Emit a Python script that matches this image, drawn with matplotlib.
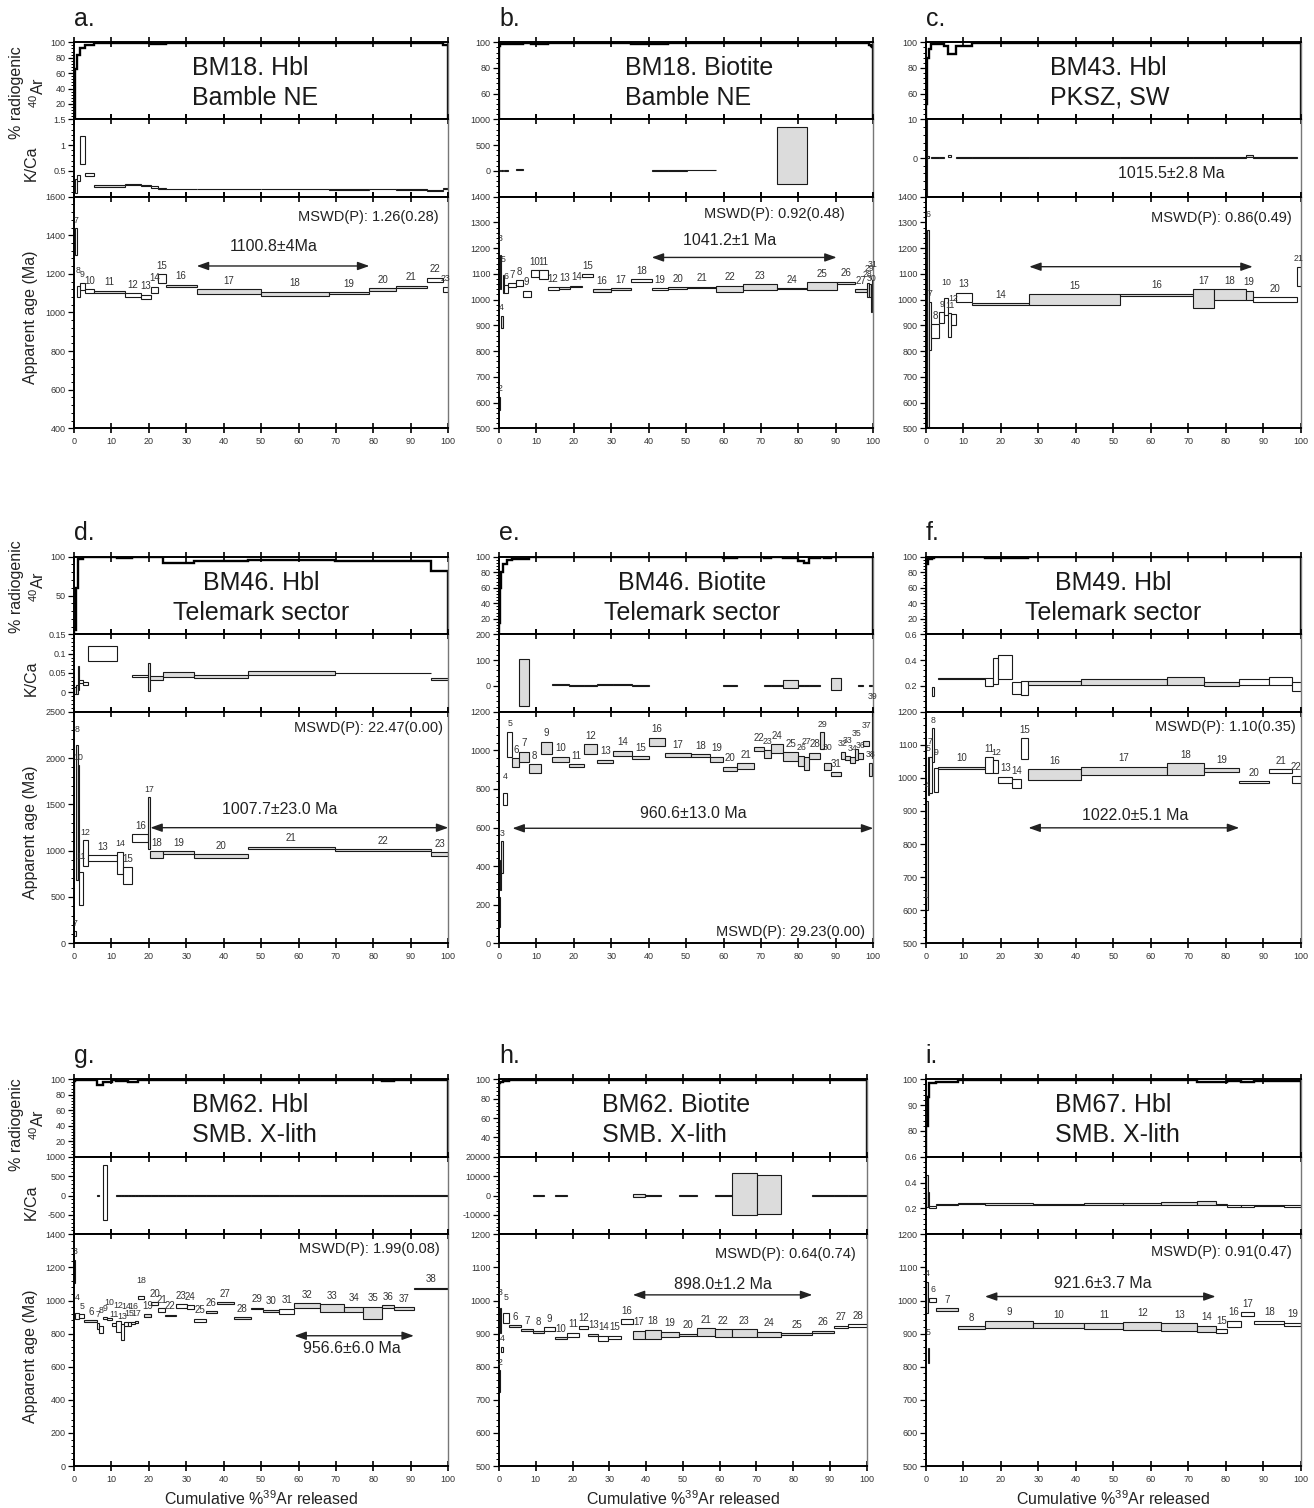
import numpy as np
import matplotlib
matplotlib.use("Agg")
import matplotlib.pyplot as plt
import matplotlib.transforms as mtransforms
from matplotlib.ticker import AutoMinorLocator, FixedLocator, FuncFormatter, MultipleLocator

plt.rcParams['font.family'] = ['Liberation Sans', 'DejaVu Sans']
plt.rcParams['mathtext.fontset'] = 'custom'
plt.rcParams['mathtext.rm'] = 'Liberation Sans'
plt.rcParams['mathtext.it'] = 'Liberation Sans:italic'
plt.rcParams['mathtext.bf'] = 'Liberation Sans:bold'

nan = np.nan

# ============ a. BM18 Hbl, Bamble NE ============
a_steps = list(range(7, 24))
a_edges = [0.3, 0.8, 1.6, 2.85, 5.34, 13.6, 17.8, 20.7, 22.5, 24.5, 32.8, 49.9, 68.0, 78.9, 86.0, 94.2, 98.5, 100]
a_age_lo = [1298, 1082, 1117, 1103, 1099, 1082, 1070, 1103, 1151, 1134, 1094, 1086, 1094, 1112, 1127, 1156, 1105]
a_age_hi = [1436, 1137, 1155, 1120, 1113, 1099, 1091, 1134, 1198, 1143, 1120, 1108, 1106, 1125, 1139, 1181, 1134]
a_kca_lo = [0.08, 0.30, 0.63, 0.41, 0.19, 0.22, 0.20, 0.17, 0.14, 0.14, 0.14, 0.14, 0.135, 0.14, 0.13, 0.11, 0.15]
a_kca_hi = [0.34, 0.43, 1.18, 0.45, 0.22, 0.25, 0.23, 0.20, 0.16, 0.155, 0.155, 0.155, 0.15, 0.155, 0.145, 0.125, 0.17]
a_rad = [65, 84, 92, 96, 98.5, 99, 99, 97.5, 97.5, 99, 99, 99, 99, 99.2, 99, 99, 96.5]
a_grey = [11, 16, 17, 18, 19, 20, 21]

# ============ b. BM18 Biotite, Bamble NE ============
b_steps = list(range(2, 32))
b_edges = [0.05, 0.25, 0.45, 1.0, 1.3, 2.5, 4.45, 6.3, 8.5, 10.7, 13.0, 15.9, 19.1, 22.3, 25.2, 29.8,
           35.3, 40.8, 45.2, 50.3, 58.0, 65.3, 74.2, 82.4, 90.2, 95.1, 98.2, 98.8, 99.3, 99.7, 100]
b_age_lo = [571, 1040, 889, 1027, 1027, 1050, 1054, 1012, 1089, 1079, 1038, 1041, 1048, 1087, 1028,
            1036, 1070, 1038, 1040, 1044, 1028, 1038, 1040, 1038, 1060, 1031, 1012, 1012, 953, 1040]
b_age_hi = [623, 1175, 937, 1096, 1057, 1063, 1076, 1034, 1115, 1115, 1048, 1050, 1054, 1098, 1040,
            1044, 1080, 1044, 1048, 1050, 1054, 1060, 1044, 1067, 1070, 1040, 1066, 1062, 1050, 1075]
b_kca_lo = [0, nan, 0, nan, 0, nan, 15, nan] + [nan] * 9 + [0, 5, 8, nan, nan, -255] + [nan] * 7
b_kca_hi = [8, nan, 8, nan, 8, nan, 30, nan] + [nan] * 9 + [12, 15, 18, nan, nan, 847] + [nan] * 7
b_rad = [97, 98.7, 98.7, 98.7, 98.7, 98.7, 98.7, 99.5, 99, 99, 99.5, 99.5, 99.5, 99.5, 99.5,
         99.5, 99, 99, 99.5, 99.5, 99.5, 99.5, 99.5, 99.5, 99.5, 99.5, 99.5, 98, 97, 96]
b_grey = [3, 4, 13, 14, 16, 17, 20, 21, 22, 23, 24, 25, 26, 27, 28, 29, 30]

# ============ c. BM43 Hbl, PKSZ SW ============
c_steps = list(range(5, 22))
c_edges = [0.05, 0.3, 0.8, 1.4, 3.6, 4.9, 6.0, 6.8, 8.1, 12.4, 27.6, 51.8, 71.4, 77.0, 85.3, 87.2, 98.9, 100]
c_age_lo = [500, 506, 804, 850, 911, 940, 856, 902, 990, 979, 979, 1014, 966, 999, 999, 992, 1054]
c_age_hi = [1140, 1270, 992, 905, 951, 1005, 947, 943, 1027, 986, 1021, 1022, 1041, 1041, 1035, 1009, 1128]
c_kca_lo = [-10, 0, nan, 0.1, 0.1, nan, 0.2, nan, 0.1, 0.05, 0.1, 0.1, 0.1, 0.1, 0.2, 0.05, nan]
c_kca_hi = [10, 0.4, nan, 0.35, 0.35, nan, 0.9, nan, 0.3, 0.25, 0.3, 0.3, 0.3, 0.3, 0.9, 0.25, nan]
c_rad = [52, 88, 95, 98.5, 99, 97, 91, 91, 97.4, 99.5, 99.5, 99.5, 99.5, 99.5, 99.5, 99.5, 99.5]
c_grey = [5, 6, 14, 15, 16, 17, 18, 19]

# ============ d. BM46 Hbl, Telemark sector ============
d_steps = [7, 8, 10, 11, 12, 13, 14, 15, 16, 17, 18, 19, 20, 21, 22, 23]
d_edges = [0.0, 0.45, 1.0, 1.4, 2.5, 3.75, 11.6, 13.2, 15.6, 19.8, 20.4, 23.9, 32.1, 46.4, 69.6, 95.5, 100]
d_age_lo = [80, 683, 683, 414, 835, 892, 748, 637, 1090, 1014, 917, 964, 924, 1018, 996, 946]
d_age_hi = [130, 2140, 1924, 773, 1115, 953, 986, 820, 1176, 1576, 996, 996, 960, 1043, 1018, 982]
d_kca_lo = [-0.003, -0.003, 0.007, 0.024, 0.018, 0.082, nan, nan, 0.039, 0.003, 0.031, 0.039, 0.037, 0.044, 0.049, 0.033]
d_kca_hi = [0.015, 0.02, 0.067, 0.032, 0.028, 0.12, nan, nan, 0.046, 0.077, 0.041, 0.053, 0.045, 0.054, 0.051, 0.038]
d_rad = [5, 60, 97, 97, 99.5, 99.5, 98.5, 98.5, 99.5, 99.5, 99.5, 92.5, 94.5, 96, 95, 81]
d_grey = [8, 10, 17, 18, 19, 20, 21, 22, 23]

# ============ e. BM46 Biotite, Telemark sector ============
e_steps = list(range(1, 40))
e_edges = [0.0, 0.3, 0.6, 1.2, 2.2, 3.6, 5.4, 8.0, 11.1, 14.1, 18.8, 22.7, 26.3, 30.5, 35.4, 40.1, 44.3,
           51.2, 56.4, 59.9, 63.7, 68.1, 70.9, 72.6, 76.0, 80.0, 81.5, 82.9, 85.8, 86.8, 88.6, 91.4,
           92.4, 93.8, 95.1, 96.0, 97.3, 98.9, 99.6, 100]
e_age_lo = [86, 276, 363, 717, 967, 912, 941, 881, 981, 941, 912, 981, 933, 972, 953, 1022, 967, 963,
            941, 893, 903, 998, 959, 984, 945, 919, 898, 955, 1007, 898, 867, 953, 950, 936, 950, 953,
            1022, 867, 959]
e_age_hi = [242, 432, 530, 781, 1097, 958, 993, 927, 1045, 967, 927, 1031, 950, 998, 970, 1066, 984, 979,
            967, 915, 933, 1019, 1002, 1031, 990, 972, 967, 988, 1093, 936, 886, 993, 972, 967, 1005, 984,
            1048, 936, 1210]
e_kca_lo = ([nan] * 6 + [-77] + [nan] * 2 + [2, -1, -1, 2, 2, 0] + [nan] * 4 + [-1] + [nan] * 2
            + [-1, -1, -10, -1, -1, -1] + [nan] * 2 + [-15] + [nan] * 4 + [-1, nan, -1, nan])
e_kca_hi = ([nan] * 6 + [103] + [nan] * 2 + [6, 2, 2, 8, 8, 5] + [nan] * 4 + [3] + [nan] * 2
            + [2, 2, 23, 2, 2, 2] + [nan] * 2 + [32] + [nan] * 4 + [2, nan, 2, nan])
e_rad = [15, 60, 80, 90, 96, 97, 97, 99.5, 99.5, 99.5, 99.5, 99.5, 99, 99, 99, 99.5, 99.5, 99.5, 99.5,
         98.5, 99, 99.5, 98.7, 99.5, 98, 95, 92, 98, 99.5, 98.5, 99, 99.5, 99.5, 99.5, 99.5, 99.5, 99.5,
         99.5, 99]
e_grey = [1, 2, 3] + list(range(6, 40))

# ============ f. BM49 Hbl, Telemark sector ============
f_steps = [1, 4, 5, 7, 8, 9, 10, 11, 12, 13, 14, 15, 16, 17, 18, 19, 20, 21, 22]
f_edges = [0.0, 0.2, 0.5, 0.9, 1.6, 2.3, 3.4, 15.8, 18.0, 19.4, 23.1, 25.3, 27.4, 41.3, 64.4, 74.2, 83.6, 91.6, 97.6, 100]
f_age_lo = [500, 600, 948, 953, 1049, 958, 1027, 1014, 1014, 985, 968, 1056, 993, 1009, 1009, 1019, 983, 1014, 983]
f_age_hi = [620, 930, 1064, 1064, 1150, 1031, 1034, 1062, 1054, 1004, 996, 1119, 1026, 1034, 1044, 1029, 990, 1026, 1006]
f_kca_lo = [nan, nan, nan, nan, 0.12, nan, 0.255, 0.2, 0.215, 0.255, 0.14, 0.13, 0.21, 0.21, 0.21, 0.2, 0.21, 0.21, 0.16]
f_kca_hi = [nan, nan, nan, nan, 0.19, nan, 0.265, 0.265, 0.42, 0.44, 0.23, 0.24, 0.24, 0.25, 0.27, 0.23, 0.25, 0.27, 0.23]
f_rad = [60, 90, 97, 97, 98, 99, 99.5, 98.7, 98.7, 98.7, 98.7, 98.7, 99.5, 99.5, 99.5, 99.5, 99, 99, 99]
f_grey = [1, 4, 10, 16, 17, 18, 19]

# ============ g. BM62 Hbl, SMB X-lith ============
g_steps = list(range(3, 39))
g_edges = [0.0, 0.35, 1.3, 2.8, 6.2, 6.8, 7.8, 8.9, 10.1, 11.1, 12.5, 13.4, 14.4, 15.3, 16.2, 17.2, 18.8,
           20.6, 22.5, 24.3, 27.2, 30.1, 32.1, 35.2, 38.1, 42.7, 47.2, 50.6, 54.9, 58.9, 65.7, 72.2, 77.3,
           82.4, 85.6, 90.8, 100]
g_age_lo = [1104, 886, 892, 872, 826, 802, 886, 882, 846, 808, 761, 846, 846, 858, 862, 1009, 900, 971,
            932, 904, 953, 947, 872, 922, 979, 890, 947, 932, 916, 957, 932, 928, 886, 957, 943, 1067]
g_age_hi = [1245, 922, 916, 882, 866, 846, 902, 896, 866, 878, 858, 872, 872, 872, 874, 1029, 916, 989,
            952, 914, 977, 971, 890, 936, 989, 900, 957, 943, 949, 983, 977, 963, 963, 971, 959, 1077]
g_kca_lo = [nan] * 4 + [-5, nan, -630, nan, nan, -5, -5] + [-5] * 25
g_kca_hi = [nan] * 4 + [5, nan, 790, nan, nan, 5, 5] + [5] * 25
g_rad = [98, 99.5, 99.5, 99, 92, 93, 96, 96, 99, 97.5, 97.5, 97.5, 97, 97, 97] + [99.5] * 18 + [98, 99.5, 99.5]
g_grey = [3, 6, 19, 22, 26, 27, 28, 29, 30, 32, 33, 34, 35, 36, 37, 38]

# ============ h. BM62 Biotite, SMB X-lith ============
h_steps = list(range(2, 29))
h_edges = [0.0, 0.3, 0.5, 1.2, 2.7, 6.0, 9.2, 12.2, 15.2, 18.6, 21.8, 24.3, 27.0, 29.7, 33.1, 36.4, 39.7,
           44.0, 49.0, 53.8, 58.7, 63.3, 70.1, 76.7, 85.2, 91.1, 95.0, 100]
h_age_lo = [725, 901, 845, 933, 921, 909, 901, 908, 883, 891, 914, 893, 879, 884, 928, 883, 883, 889,
            893, 894, 889, 891, 891, 896, 903, 916, 919]
h_age_hi = [790, 976, 860, 961, 926, 913, 908, 919, 889, 903, 923, 899, 893, 893, 943, 908, 911, 906,
            899, 916, 913, 913, 906, 901, 909, 924, 929]
h_kca_lo = ([nan] * 6 + [-150, nan, -150] + [nan] * 6
            + [-520, -150, nan, -150, nan, -150, -10090, -9740, nan, -150, -150, -150])
h_kca_hi = ([nan] * 6 + [150, nan, 150] + [nan] * 6
            + [870, 150, nan, 150, nan, 150, 11650, 10780, nan, 150, 150, 150])
h_rad = [96, 97, 97.5, 98.5] + [99.5] * 9 + [99] + [99.5] * 13
h_grey = [2, 3, 6, 7, 8, 10, 13, 17, 18, 19, 20, 21, 22, 23, 24, 25, 26]

# ============ i. BM67 Hbl, SMB X-lith ============
i_steps = list(range(4, 20))
i_edges = [0.1, 0.5, 1.0, 2.7, 8.7, 15.8, 28.7, 42.3, 52.7, 62.8, 72.4, 77.3, 80.4, 84.1, 87.6, 95.6, 100]
i_age_lo = [961, 810, 996, 969, 913, 916, 916, 913, 911, 908, 904, 901, 921, 953, 928, 924]
i_age_hi = [1057, 855, 1009, 976, 923, 939, 931, 931, 936, 931, 924, 913, 939, 964, 939, 933]
i_kca_lo = [0.21, 0.21, 0.205, 0.228, 0.232, 0.228, 0.225, 0.228, 0.226, 0.228, 0.228, 0.228, 0.213, 0.213, 0.218, 0.21]
i_kca_hi = [0.46, 0.33, 0.22, 0.235, 0.245, 0.24, 0.235, 0.245, 0.24, 0.25, 0.258, 0.235, 0.226, 0.224, 0.226, 0.226]
i_rad = [82, 93, 98.7, 99.0, 99.6, 99.6, 99.6, 99.6, 99.6, 99.6, 99.0, 98.9, 99.5, 98.8, 99.5, 99.5]
i_grey = [4, 5, 7, 8, 9, 10, 11, 12, 13, 14]

# ====================== LAYOUT (pixels of the original figure) ======================
W, H = 1314, 1508
COLS = [(74, 448.3), (499, 873.3), (925.7, 1300.7)]
ROWS = [(42.3, 119.3, 196.7, 428.3), (556.7, 634.3, 711.7, 943.3), (1079.3, 1156.7, 1234.3, 1466.0)]
YLAB_Y = [(0.35, 0.43, 0.48), (0.61, 0.43, 0.48), (0.42, 0.41, 0.475)]

fig = plt.figure(figsize=(W / 100, H / 100), dpi=100)
fmt = FuncFormatter(lambda v, _: f"{v:g}")
GREY = '#dcdcdc'
EDGE = '#1a1a1a'
TXT = '#222222'


def add_ax(x0, x1, y0, y1):
    return fig.add_axes([x0 / W, 1 - y1 / H, (x1 - x0) / W, (y1 - y0) / H])


def style(ax, ylim, yticks, labels=False):
    ax.set_xlim(0, 100)
    ax.set_ylim(*ylim)
    ax.xaxis.set_major_locator(MultipleLocator(10))
    ax.yaxis.set_major_locator(FixedLocator(yticks))
    ax.yaxis.set_major_formatter(fmt)
    ax.yaxis.set_minor_locator(AutoMinorLocator(5))
    ax.tick_params(axis='x', which='major', direction='inout', length=7, width=1.2,
                   top=True, bottom=True, labelbottom=labels, labelsize=6.5, labelcolor='#333', pad=3)
    ax.tick_params(axis='y', which='major', direction='out', length=4, width=0.9,
                   labelsize=6.5, labelcolor='#333', pad=2)
    ax.tick_params(axis='y', which='minor', direction='out', length=2, width=0.7)
    for s in ax.spines.values():
        s.set_linewidth(1.4)
    ax.spines['right'].set_linewidth(1.0)
    ax.spines['right'].set_color('#777')


def boxes(ax, edges, lo, hi, colors):
    e = np.asarray(edges, float)
    lo = np.asarray(lo, float)
    hi = np.asarray(hi, float)
    ok = ~np.isnan(lo)
    ax.bar(e[:-1][ok], (hi - lo)[ok], width=np.diff(e)[ok], bottom=lo[ok], align='edge',
           color=np.array(colors)[ok], edgecolor=EDGE, linewidth=0.8)


def panel(col, row, letter, title, tx, tha, steps, edges, age_lo, age_hi, kca_lo, kca_hi, rad, grey,
          rad_lim, rad_ticks, kca_lim, kca_ticks, age_lim, age_ticks, plat, arrow_y,
          ptxt, pxy, mswd, mxy, hide=(), ptxt_kca=False, right=None):
    x0, x1 = COLS[col]
    if right is not None:
        x1 = right
    y0, y1, y2, y3 = ROWS[row]
    ax_r = add_ax(x0, x1, y0, y1)
    ax_k = add_ax(x0, x1, y1, y2)
    ax_a = add_ax(x0, x1, y2, y3)
    style(ax_r, rad_lim, rad_ticks)
    style(ax_k, kca_lim, kca_ticks)
    style(ax_a, age_lim, age_ticks, labels=True)

    colors = [GREY if s in grey else 'white' for s in steps]

    # % radiogenic 40Ar
    ax_r.stairs(rad, edges, baseline=0, color='k', linewidth=1.7)
    tr = mtransforms.blended_transform_factory(ax_r.transData, ax_r.transAxes)
    ax_r.text(tx, 0.47, title, transform=tr, ha=tha, va='center', multialignment=tha,
              fontsize=18, linespacing=1.3, color='#1a1a1a')
    ax_r.text(0, 1.21, letter, transform=ax_r.transAxes, ha='left', va='baseline',
              fontsize=18, color='#1a1a1a')

    # K/Ca
    boxes(ax_k, edges, kca_lo, kca_hi, colors)

    # apparent age spectrum
    boxes(ax_a, edges, age_lo, age_hi, colors)
    e = np.asarray(edges, float)
    flip = 0
    for s, a, b, h in zip(steps, e[:-1], e[1:], age_hi):
        narrow = (b - a) < 1.8
        flip = flip + 1 if narrow else 0
        if s in hide:
            continue
        dy = 8.0 if (narrow and flip % 2 == 0) else 2.5
        ax_a.annotate(str(s), xy=((a + b) / 2, min(h, age_lim[1])), xytext=(0, dy),
                      textcoords='offset points', ha='center', va='bottom',
                      fontsize=6.3 if narrow else 7, color='#333', annotation_clip=False)
    xa = e[steps.index(plat[0])]
    xb = e[steps.index(plat[1]) + 1]
    ax_a.annotate('', xy=(xb, arrow_y), xytext=(xa, arrow_y),
                  arrowprops=dict(arrowstyle='<|-|>,head_length=0.7,head_width=0.25',
                                  color=TXT, lw=1.0, shrinkA=0, shrinkB=0))
    (ax_k if ptxt_kca else ax_a).text(pxy[0], pxy[1], ptxt, ha='center', va='center',
                                      fontsize=11.5, color=TXT)
    ax_a.text(mxy[0], mxy[1], mswd, ha='right', va='center', fontsize=10.5, color=TXT)

    if col == 0:
        yr, yk, ya = YLAB_Y[row]
        ax_r.set_ylabel("% radiogenic\n$^{40}$Ar", fontsize=11.5, linespacing=1.25, color=TXT)
        ax_r.yaxis.set_label_coords(-0.072, yr)
        ax_k.set_ylabel("K/Ca", fontsize=11.5, color=TXT)
        ax_k.yaxis.set_label_coords(-0.094, yk)
        ax_a.set_ylabel("Apparent age (Ma)", fontsize=11.5, color=TXT)
        ax_a.yaxis.set_label_coords(-0.096, ya)
    if row == 2:
        ax_a.set_xlabel("Cumulative %$^{39}$Ar released", fontsize=11.5, color=TXT, va='top')
        ax_a.xaxis.set_label_coords(0.5, -0.1)


panel(0, 0, 'a.', "BM18. Hbl\nBamble NE", 31.4, 'left',
      a_steps, a_edges, a_age_lo, a_age_hi, a_kca_lo, a_kca_hi, a_rad, a_grey,
      (0, 100), [20, 40, 60, 80, 100], (0, 1.5), [0.5, 1, 1.5], (400, 1600), list(range(400, 1601, 200)),
      (17, 19), 1241, "1100.8±4Ma", (53.4, 1341), "MSWD(P): 1.26(0.28)", (97.3, 1497))

panel(1, 0, 'b.', "BM18. Biotite\nBamble NE", 33.7, 'left',
      b_steps, b_edges, b_age_lo, b_age_hi, b_kca_lo, b_kca_hi, b_rad, b_grey,
      (40, 100), [60, 80, 100], (-500, 1000), [0, 500, 1000], (500, 1400), list(range(500, 1401, 100)),
      (19, 25), 1164, "1041.2±1 Ma", (61.7, 1228), "MSWD(P): 0.92(0.48)", (92.4, 1332))

panel(2, 0, 'c.', "BM43. Hbl\nPKSZ, SW", 33.2, 'left',
      c_steps, c_edges, c_age_lo, c_age_hi, c_kca_lo, c_kca_hi, c_rad, c_grey,
      (40, 100), [60, 80, 100], (-10, 10), [0, 10], (500, 1400), list(range(500, 1401, 100)),
      (15, 19), 1128, "1015.5±2.8 Ma", (65.6, -3.9), "MSWD(P): 0.86(0.49)", (97.6, 1318),
      hide=(5,), ptxt_kca=True)

panel(0, 1, 'd.', "BM46. Hbl\nTelemark sector", 50.0, 'center',
      d_steps, d_edges, d_age_lo, d_age_hi, d_kca_lo, d_kca_hi, d_rad, d_grey,
      (0, 100), [50, 100], (-0.05, 0.15), [0, 0.05, 0.1, 0.15], (0, 2500), list(range(0, 2501, 500)),
      (18, 23), 1248, "1007.7±23.0 Ma", (54.9, 1446), "MSWD(P): 22.47(0.00)", (98.7, 2320))

panel(1, 1, 'e.', "BM46. Biotite\nTelemark sector", 51.5, 'center',
      e_steps, e_edges, e_age_lo, e_age_hi, e_kca_lo, e_kca_hi, e_rad, e_grey,
      (0, 100), [20, 40, 60, 80, 100], (-100, 200), [0, 100, 200], (0, 1200), list(range(0, 1201, 200)),
      (6, 39), 596, "960.6±13.0 Ma", (51.9, 674), "MSWD(P): 29.23(0.00)", (97.8, 60),
      hide=(1, 2))

panel(2, 1, 'f.', "BM49. Hbl\nTelemark sector", 50.0, 'center',
      f_steps, f_edges, f_age_lo, f_age_hi, f_kca_lo, f_kca_hi, f_rad, f_grey,
      (0, 100), [20, 40, 60, 80, 100], (0, 0.6), [0.2, 0.4, 0.6], (500, 1200), list(range(500, 1201, 100)),
      (16, 19), 849, "1022.0±5.1 Ma", (55.8, 885), "MSWD(P): 1.10(0.35)", (98.8, 1155))

panel(0, 2, 'g.', "BM62. Hbl\nSMB. X-lith", 31.4, 'left',
      g_steps, g_edges, g_age_lo, g_age_hi, g_kca_lo, g_kca_hi, g_rad, g_grey,
      (0, 100), [20, 40, 60, 80, 100], (-1000, 1000), [-500, 0, 500, 1000], (0, 1400), list(range(0, 1401, 200)),
      (32, 37), 787, "956.6±6.0 Ma", (74.2, 707), "MSWD(P): 1.99(0.08)", (97.8, 1309))

panel(1, 2, 'h.', "BM62. Biotite\nSMB. X-lith", 27.9, 'left',
      h_steps, h_edges, h_age_lo, h_age_hi, h_kca_lo, h_kca_hi, h_rad, h_grey,
      (20, 100), [40, 60, 80, 100], (-20000, 20000), [-10000, 0, 10000, 20000], (500, 1200),
      list(range(500, 1201, 100)),
      (17, 25), 1017, "898.0±1.2 Ma", (60.8, 1047), "MSWD(P): 0.64(0.74)", (97.1, 1140), right=866.7)

panel(2, 2, 'i.', "BM67. Hbl\nSMB. X-lith", 34.5, 'left',
      i_steps, i_edges, i_age_lo, i_age_hi, i_kca_lo, i_kca_hi, i_rad, i_grey,
      (70, 100), [80, 90, 100], (0, 0.6), [0.2, 0.4, 0.6], (500, 1200), list(range(500, 1201, 100)),
      (9, 14), 1012, "921.6±3.7 Ma", (47.2, 1052), "MSWD(P): 0.91(0.47)", (97.6, 1148))

fig.savefig('out.png', dpi=100)
